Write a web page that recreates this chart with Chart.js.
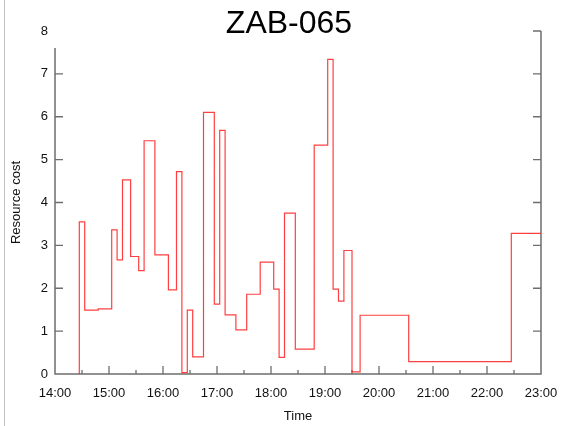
<!DOCTYPE html>
<html>
<head>
<meta charset="utf-8">
<script src="https://cdn.jsdelivr.net/npm/chart.js@4.4.0/dist/chart.umd.min.js"></script>
<style>
  html, body { margin: 0; padding: 0; background: #fff; }
  #wrap { position: relative; width: 561px; height: 426px; }
  #edge { position: absolute; left: 4px; top: 0; width: 1px; height: 426px; background: #c4c4c4; }
  canvas { position: absolute; left: 0; top: 0; }
</style>
</head>
<body>
<div id="wrap">
  <canvas id="c" width="561" height="426"></canvas>
  <div id="edge"></div>
</div>
<script>
// ---- data ----
const chartTitle = "ZAB-065";
const xAxisTitle = "Time";
const yAxisTitle = "Resource cost";
const startTime = "14:00";
const endTime = "23:00";
const times = ["14:27","14:27","14:33","14:48","15:03","15:09","15:15","15:24","15:33","15:39",
  "15:51","16:06","16:15","16:21","16:27","16:33","16:45","16:57","17:03","17:09",
  "17:21","17:33","17:48","18:03","18:09","18:15","18:27","18:48","19:03","19:09",
  "19:15","19:21","19:30","19:39","20:33","22:27","23:00"];
const costs = [0,3.55,1.49,1.52,3.36,2.66,4.53,2.74,2.41,5.44,
  2.78,1.96,4.72,0.03,1.49,0.40,6.10,1.63,5.68,1.38,
  1.03,1.86,2.61,1.98,0.39,3.75,0.58,5.34,7.34,1.98,
  1.70,2.88,0.05,1.37,0.29,3.28,3.28];
const yTicks = [0,1,2,3,4,5,6,7,8];

// ---- helpers ----
function toMin(t) { const p = t.split(":"); return (+p[0]) * 60 + (+p[1]); }
const t0 = toMin(startTime);
function fmt(m) {
  const tot = t0 + Math.round(m);
  const h = Math.floor(tot / 60), mm = tot % 60;
  return String(h).padStart(2, "0") + ":" + String(mm).padStart(2, "0");
}
const points = times.map((t, i) => ({ x: toMin(t) - t0, y: costs[i] }));

const FONT = '"Liberation Sans", Arial, Helvetica, sans-serif';
const AXIS = "#6e6e6e";

const axesPlugin = {
  id: "frameAxes",
  beforeDatasetsDraw(chart) {
    const { ctx, chartArea: a, scales: { x, y } } = chart;
    ctx.save();
    ctx.strokeStyle = AXIS;
    ctx.lineWidth = 1.5;
    const yTop = 48;
    ctx.beginPath();
    ctx.moveTo(a.left, yTop); ctx.lineTo(a.left, a.bottom);
    ctx.moveTo(a.left - 0.75, a.bottom); ctx.lineTo(a.right + 0.75, a.bottom);
    ctx.moveTo(a.right, a.top); ctx.lineTo(a.right, a.bottom);
    ctx.stroke();
    ctx.lineWidth = 1.3;
    ctx.beginPath();
    yTicks.forEach(v => {
      if (v === 0) return;
      const py = y.getPixelForValue(v);
      if (py >= yTop) { ctx.moveTo(a.left, py); ctx.lineTo(a.left + 8, py); }
      ctx.moveTo(a.right, py); ctx.lineTo(a.right - 8, py);
    });
    for (let m = 30; m < x.max; m += 30) {
      const px = x.getPixelForValue(m);
      const len = (m % 60 === 0) ? 8 : 4;
      ctx.moveTo(px, a.bottom); ctx.lineTo(px, a.bottom - len);
    }
    ctx.stroke();
    ctx.restore();
  },
  afterDraw(chart) {
    const { ctx } = chart;
    ctx.save();
    ctx.fillStyle = "#000";
    ctx.font = "32px " + FONT;
    ctx.textAlign = "center";
    ctx.textBaseline = "alphabetic";
    ctx.fillText(chartTitle, 289, 33);
    ctx.restore();
  }
};

new Chart(document.getElementById("c"), {
  type: "line",
  data: {
    datasets: [{
      data: points,
      stepped: "before",
      borderColor: "rgba(255,30,30,0.85)",
      borderWidth: 1.2,
      pointRadius: 0,
      fill: false,
      tension: 0
    }]
  },
  options: {
    responsive: false,
    animation: false,
    devicePixelRatio: 1,
    layout: { padding: { left: 0, right: 20, top: 31, bottom: 0 } },
    plugins: {
      legend: { display: false },
      tooltip: { enabled: false },
      title: { display: false }
    },
    scales: {
      x: {
        type: "linear",
        min: 0,
        max: toMin(endTime) - t0,
        grid: { display: false, drawTicks: false },
        border: { display: false },
        ticks: {
          stepSize: 60,
          padding: 12,
          color: "#111",
          font: { family: FONT, size: 13 },
          maxRotation: 0,
          autoSkip: false,
          callback: v => fmt(v)
        },
        title: {
          display: true,
          text: xAxisTitle,
          color: "#111",
          font: { family: FONT, size: 13 },
          padding: { top: 0, bottom: 2 }
        },
        afterFit: s => { s.height = 52; s.paddingLeft = 0; s.paddingRight = 0; }
      },
      y: {
        type: "linear",
        min: yTicks[0],
        max: yTicks[yTicks.length - 1],
        grid: { display: false, drawTicks: false },
        border: { display: false },
        afterBuildTicks: s => { s.ticks = yTicks.map(v => ({ value: v })); },
        ticks: {
          padding: 7,
          color: "#111",
          font: { family: FONT, size: 13 },
          callback: v => String(v)
        },
        title: {
          display: true,
          text: yAxisTitle,
          color: "#111",
          font: { family: FONT, size: 13 },
          padding: { top: 9, bottom: 0 }
        },
        afterFit: s => { s.width = 55; s.paddingTop = 0; s.paddingBottom = 0; }
      }
    }
  },
  plugins: [axesPlugin]
});
</script>
</body>
</html>
